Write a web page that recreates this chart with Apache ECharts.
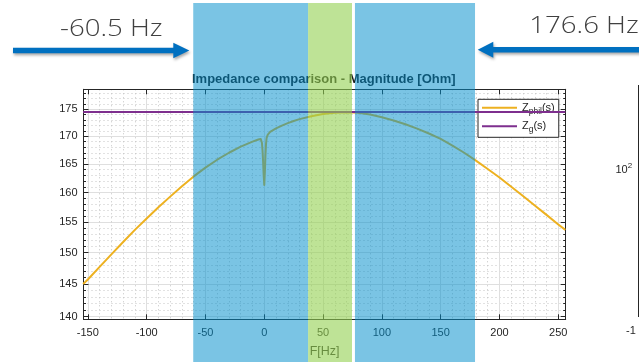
<!DOCTYPE html>
<html><head><meta charset="utf-8">
<script src="https://cdn.jsdelivr.net/npm/echarts@6/dist/echarts.min.js"></script>
<style>html,body{margin:0;padding:0;background:#fff}#c{width:639px;height:362px}</style>
</head><body><div id="c"></div>
<script>
// ---- data ----
const freqHz = [-154,-150,-140,-130,-120,-110,-100,-90,-80,-70,-60,-50,-40,-30,-20,-10,-5,-3,-2,-1.5,-1,-0.5,0,0.5,1,1.5,2,3,5,10,15,20,25,30,40,50,60,70,80,90,100,110,120,130,140,150,160,170,180,190,200,210,220,230,240,250,256];
const zPhil = [145.0,145.7,147.7,149.7,151.7,153.7,155.6,157.5,159.3,161.1,162.8,164.35,165.75,167.0,168.1,169.0,169.4,169.5,168.8,167.5,165.5,163.0,161.3,163.5,166.5,168.6,169.7,170.3,170.8,171.45,171.95,172.4,172.8,173.15,173.7,174.1,174.35,174.45,174.35,174.0,173.5,172.9,172.2,171.4,170.5,169.5,168.3,167.0,165.6,164.1,162.6,161.0,159.4,157.8,156.2,154.6,153.7];
const zgFreq = [-154, 256];
const zG = [174.5, 174.5];
const xRange = [-153.7, 256.3];
const yRange = [139.6, 178.8];
const xTicks = [-150,-100,-50,0,50,100,150,200,250];
const xMinorTicks = [-140,-130,-120,-110,-90,-80,-70,-60,-40,-30,-20,-10,10,20,30,40,60,70,80,90,110,120,130,140,160,170,180,190,210,220,230,240];
const yTicks = [140,145,150,155,160,165,170,175];
const yMinorTicks = [141,142,143,144,146,147,148,149,151,152,153,154,156,157,158,159,161,162,163,164,166,167,168,169,171,172,173,174,176,177,178];
const blueBands = [[-60.4, 37.3], [77.1, 179.2]];
const greenBands = [[37.3, 74.6]];
const arrowLabels = ['-60.5 Hz', '176.6 Hz'];
const titleText = 'Impedance comparison - Magnitude [Ohm]';

// ---- chart ----
const chart = echarts.init(document.getElementById('c'), null, {renderer: 'canvas'});
const AX = '#262626';
const FONT = 'Liberation Sans, Arial, sans-serif';
const L = 83.5, R = 73.3, T = 89.3, B = 42.7;
const lg = v => Math.log10(v);
const yLogRange = [lg(yRange[0]), lg(yRange[1])];

function yOverlay(pos, ticks, opts) {
  return Object.assign({
    type: 'value', gridIndex: 0, position: pos,
    min: yLogRange[0], max: yLogRange[1],
    axisLine: {show: false, onZero: false, lineStyle: {color: AX}},
    axisTick: {show: true, inside: true, length: 5, customValues: ticks.map(lg), lineStyle: {color: AX}},
    axisLabel: {show: false},
    splitLine: {show: false}
  }, opts);
}

const option = {
  animation: false,
  backgroundColor: '#fff',
  title: {
    text: titleText, left: 192, top: 73, z: 0, padding: 0,
    textStyle: {fontFamily: FONT, fontSize: 13, fontWeight: 'bold', color: '#1a1a1a'}
  },
  legend: {
    data: ['Zphil', 'Zg'],
    orient: 'vertical', left: 478, top: 99.3,
    backgroundColor: '#fff', borderColor: AX, borderWidth: 1, borderRadius: 0,
    padding: [3, 4, 3, 4], itemGap: 5,
    itemWidth: 35, itemHeight: 2, icon: 'rect',
    formatter: n => n === 'Zphil' ? '{z|Z}{s|phil}{z|(s)}' : '{z|Z}{s|g}{z|(s)}',
    textStyle: {
      fontFamily: FONT, color: AX,
      rich: {
        z: {fontSize: 11, fontFamily: FONT, color: AX},
        s: {fontSize: 8.5, fontFamily: FONT, color: AX, padding: [7, 0, 0, 0]}
      }
    }
  },
  grid: [
    {left: L, right: R, top: T, bottom: B, outerBoundsMode: 'none', containLabel: false},
    {left: L, right: R, top: 3, bottom: 0, outerBoundsMode: 'none', containLabel: false}
  ],
  xAxis: [
    {
      type: 'value', gridIndex: 0, position: 'bottom', min: xRange[0], max: xRange[1],
      axisLine: {show: true, onZero: false, lineStyle: {color: AX}},
      axisTick: {show: true, inside: true, length: 5, customValues: xTicks, lineStyle: {color: AX}},
      axisLabel: {customValues: xTicks, fontSize: 11, fontFamily: FONT, color: AX, margin: 8},
      splitLine: {show: true, lineStyle: {color: '#dfdfdf', width: 1}},
      name: 'F[Hz]', nameLocation: 'middle', nameGap: 26,
      nameTextStyle: {fontSize: 12.5, fontFamily: FONT, color: AX}
    },
    {
      type: 'value', gridIndex: 0, position: 'bottom', min: xRange[0], max: xRange[1],
      axisLine: {show: false, onZero: false},
      axisTick: {show: false, customValues: xMinorTicks},
      axisLabel: {show: false},
      splitLine: {show: true, lineStyle: {color: '#c4c4c4', width: 1, type: [1, 3]}}
    },
    {
      type: 'value', gridIndex: 0, position: 'top', min: xRange[0], max: xRange[1],
      axisLine: {show: true, onZero: false, lineStyle: {color: AX}},
      axisTick: {show: true, inside: true, length: 5, customValues: xTicks, lineStyle: {color: AX}},
      axisLabel: {show: false},
      splitLine: {show: false}
    },
    {type: 'value', gridIndex: 1, min: xRange[0], max: xRange[1], show: false}
  ],
  yAxis: [
    {type: 'log', logBase: 10, gridIndex: 0, min: yRange[0], max: yRange[1], show: false},
    yOverlay('left', yTicks, {
      axisLine: {show: true, onZero: false, lineStyle: {color: AX}},
      axisLabel: {show: true, customValues: yTicks.map(lg), margin: 6,
        formatter: v => String(Math.round(Math.pow(10, v))),
        fontSize: 11, fontFamily: FONT, color: AX},
      splitLine: {show: true, lineStyle: {color: '#dfdfdf', width: 1}}
    }),
    yOverlay('left', yMinorTicks, {
      axisTick: {show: true, inside: true, length: 2.5, customValues: yMinorTicks.map(lg), lineStyle: {color: AX}},
      splitLine: {show: true, lineStyle: {color: '#c4c4c4', width: 1, type: [1, 3]}}
    }),
    yOverlay('right', yTicks, {axisLine: {show: true, onZero: false, lineStyle: {color: AX}}}),
    yOverlay('right', yMinorTicks, {
      axisTick: {show: true, inside: true, length: 2.5, customValues: yMinorTicks.map(lg), lineStyle: {color: AX}}
    }),
    {type: 'value', gridIndex: 1, min: 0, max: 1, show: false}
  ],
  series: [
    {
      name: 'Zphil', type: 'line', xAxisIndex: 0, yAxisIndex: 0,
      data: freqHz.map((f, i) => [f, zPhil[i]]),
      symbol: 'none', smooth: false, z: 3,
      lineStyle: {color: '#EDB120', width: 2, join: 'round'}, itemStyle: {color: '#EDB120'}
    },
    {
      name: 'Zg', type: 'line', xAxisIndex: 0, yAxisIndex: 0,
      data: zgFreq.map((f, i) => [f, zG[i]]),
      symbol: 'none', z: 4,
      lineStyle: {color: '#7E2F8E', width: 2}, itemStyle: {color: '#7E2F8E'}
    },
    {
      name: 'blueBand', type: 'line', xAxisIndex: 3, yAxisIndex: 5, data: [], z: 10, silent: true,
      markArea: {silent: true, z: 20, itemStyle: {color: 'rgba(0,142,204,0.52)'},
        data: blueBands.map(b => [{xAxis: b[0]}, {xAxis: b[1]}])}
    },
    {
      name: 'greenBand', type: 'line', xAxisIndex: 3, yAxisIndex: 5, data: [], z: 10, silent: true,
      markArea: {silent: true, z: 20, itemStyle: {color: 'rgba(146,208,80,0.6)'},
        data: greenBands.map(b => [{xAxis: b[0]}, {xAxis: b[1]}])}
    }
  ],
  graphic: [
    {
      type: 'polygon', z: 50,
      shape: {points: [[13,47.7],[173.3,47.7],[173.3,42.7],[189.3,50.5],[173.3,58.3],[173.3,53.3],[13,53.3]]},
      style: {fill: '#0070C0', shadowBlur: 3, shadowOffsetY: 2, shadowOffsetX: 1, shadowColor: 'rgba(0,0,0,0.35)'}
    },
    {
      type: 'polygon', z: 50,
      shape: {points: [[645,46.9],[493.3,46.9],[493.3,41.7],[477.7,49.7],[493.3,57.7],[493.3,52.5],[645,52.5]]},
      style: {fill: '#0070C0', shadowBlur: 3, shadowOffsetY: 2, shadowOffsetX: 1, shadowColor: 'rgba(0,0,0,0.35)'}
    },
    {
      type: 'text', x: 60, y: 28.7, scaleX: 1.15, z: 50,
      style: {text: arrowLabels[0], x: 0, y: 0, verticalAlign: 'middle', fontSize: 24,
        fontFamily: 'Open Sans, Noto Sans, sans-serif', fontWeight: 300, fill: '#404040'}
    },
    {
      type: 'text', x: 529.3, y: 26.3, scaleX: 1.15, z: 50,
      style: {text: arrowLabels[1], x: 0, y: 0, verticalAlign: 'middle', fontSize: 24,
        fontFamily: 'Open Sans, Noto Sans, sans-serif', fontWeight: 300, fill: '#404040'}
    },
    {
      type: 'line', z: 1,
      shape: {x1: 638.5, y1: 85, x2: 638.5, y2: 317},
      style: {stroke: AX, lineWidth: 1}
    },
    {
      type: 'text', x: 615.5, y: 170, z: 1,
      style: {text: '{a|10}{b|2}', verticalAlign: 'middle',
        rich: {a: {fontSize: 11, fontFamily: FONT, fill: AX, color: AX},
               b: {fontSize: 8, fontFamily: FONT, fill: AX, color: AX, padding: [0, 0, 8, 0]}}}
    },
    {
      type: 'text', x: 626, y: 331, z: 1,
      style: {text: '-1', verticalAlign: 'middle', fontSize: 11, fontFamily: FONT, fill: AX}
    }
  ]
};
chart.setOption(option);
</script>
</body></html>
